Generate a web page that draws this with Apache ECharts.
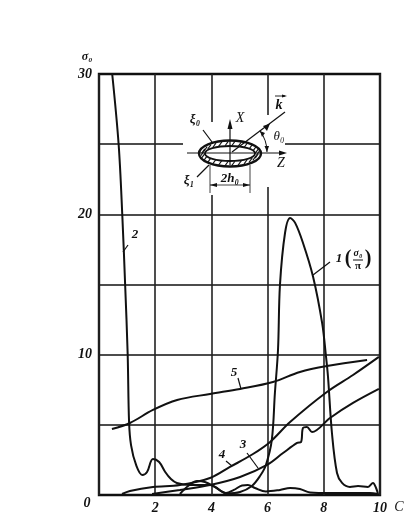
<!DOCTYPE html>
<html><head><meta charset="utf-8">
<style>html,body{margin:0;padding:0;background:#fff}#c{width:411px;height:530px}</style>
<script src="https://cdn.jsdelivr.net/npm/echarts@6/dist/echarts.min.js"></script>
</head><body><div id="c"></div>
<script>
const curve1=[[2.88,.07],[3.17,.64],[3.49,1.0],[3.77,.93],[4.13,.57],[4.56,.11],[5.02,.21],[5.44,.64],[5.73,1.35],[5.94,2.14],[6.15,3.92],[6.26,7.27],[6.37,10.33],[6.44,14.97],[6.62,18.67],[6.80,19.74],[6.98,19.39],[7.26,17.96],[7.62,15.54],[7.94,12.26],[8.08,9.84],[8.15,8.41],[8.29,4.42],[8.47,1.57],[8.65,.86],[8.93,.57],[9.22,.64],[9.57,.57],[9.75,.86],[9.86,.5],[9.93,.07]];
const curve2=[[.47,30],[.70,24.95],[.83,19.9],[.93,15],[1.02,10.05],[1.07,5.2],[1.14,3.56],[1.32,2.14],[1.54,1.43],[1.71,1.64],[1.92,2.57],[2.14,2.35],[2.35,1.66],[2.56,1.14],[2.77,.86],[3.24,.71],[3.95,.71],[4.52,.14],[4.80,.36],[5.09,.68],[5.30,.71],[5.55,.5],[5.94,.25],[6.44,.36],[6.80,.5],[7.15,.43],[7.51,.18],[8.22,.14],[9.64,.14],[9.93,.07]];
const curve3=[[1.89,.07],[2.88,.36],[3.95,.71],[5.02,1.28],[5.98,2.14],[6.55,2.99],[7.05,3.71],[7.19,3.78],[7.26,4.78],[7.40,4.85],[7.58,4.49],[8.22,5.49],[9.04,6.56],[9.96,7.56]];
const curve4=[[.82,.07],[1.10,.29],[1.92,.57],[2.88,.71],[3.95,1.21],[4.66,2.0],[5.48,2.92],[6.09,3.78],[6.80,5.2],[8.11,7.34],[9.04,8.55],[9.96,9.84]];
const curve5=[[.46,4.7],[1.10,5.13],[1.92,6.06],[2.78,6.77],[3.95,7.2],[5.02,7.56],[6.19,8.05],[7.15,8.77],[8.11,9.19],[9.54,9.62]];
const xTicks=[2,4,6,8,10];
const yTicks=[10,20,30];

const F='"Liberation Serif"';
const K='#111';
const line=(x1,y1,x2,y2,w=1.2)=>({type:'line',z:20,shape:{x1,y1,x2,y2},style:{stroke:K,lineWidth:w}});
const text=(x,y,t,s=13,st='italic',extra={})=>({type:'text',z:21,x,y,style:Object.assign({text:t,font:`${st} bold ${s}px ${F}`,fill:K,align:'center',verticalAlign:'middle'},extra)});
const tri=(pts)=>({type:'polygon',z:21,shape:{points:pts},style:{fill:K}});
const mask=(x,y,width,height)=>({type:'rect',z:10,shape:{x,y,width,height},style:{fill:'#fff'}});
const ell=(cx,cy,rx,ry,style,z=20)=>({type:'ellipse',z,shape:{cx,cy,rx,ry},style});

// slanted hatching of the ring in the inset sketch
const hatch=[];
for(let i=0;i<26;i++){
  const a=i/26*Math.PI*2, mx=230+27.6*Math.cos(a), my=153.5+10*Math.sin(a);
  hatch.push(line(mx-1.6,my+2.2,mx+1.6,my-2.2,1.1));
}

const graphics=[
 mask(183,141,102,8),mask(206,122,8,73),mask(263,115,8,72),
 ell(230,153.5,31,13,{fill:'#fff',stroke:K,lineWidth:2.4}),
 ...hatch,
 ell(230,153.5,25,7.5,{fill:'#fff',stroke:K,lineWidth:1.8,z2:3}),
 line(187,153,284,153),tri([[287,153],[279,150.5],[279,155.5]]),
 line(230,165,230,124),tri([[230,119],[227.5,129],[232.5,129]]),
 line(232,152,285,112),tri([[270,123.5],[263,126],[267,131]]),
 line(203,130,212,142),line(197,177,209,165),
 line(210,165,210,193,.8),line(250,165,250,193,.8),line(210,185,250,185,.8),
 tri([[210,185],[217,183],[217,187]]),tri([[250,185],[243,183],[243,187]]),
 {type:'arc',z:20,shape:{cx:232,cy:152,r:35,startAngle:-0.65,endAngle:0},style:{stroke:K,lineWidth:1,fill:'none'}},
 tri([[267,152],[264.5,146],[269,146]]),tri([[260,131],[265,133],[262,137]]),
 text(240,118,'X',14,'italic',{font:`italic 14px ${F}`}),
 text(281,163,'Z',14,'italic',{font:`italic 14px ${F}`}),
 text(279,105,'k',14),line(275,96,285,96,.9),tri([[287,96],[282,94.5],[282,97.5]]),
 text(279,137,'θ₀',12,'italic',{font:`italic 13px ${F}`}),
 text(195,120,'ξ₀',13),text(189,181,'ξ₁',13),
 text(230,179,'2h₀',13),
 text(87,57,'σ₀',12),
 text(87,503,'0',14),
 text(399,507,'C',14,'italic',{font:`italic 14px ${F}`}),
 text(135,235,'2',13),line(128,245,123,252),
 text(234,373,'5',13),line(238,378,241,389),
 text(222,455,'4',13),line(226,461,232,466),
 text(243,445,'3',13),line(247,453,258,468),
 text(339,259,'1',13),line(330,262,313,275),
 text(348,259,'(',20,'normal'),text(368,259,')',20,'normal'),
 text(358,253,'σ₀',10),line(353,260,363,260,1),text(358,266,'π',11,'normal')
];

const ser=(d)=>({type:'line',data:d,smooth:0.35,showSymbol:false,symbol:'none',z:5,clip:true,
  lineStyle:{color:K,width:2},silent:true});

echarts.init(document.getElementById('c'),null,{renderer:'canvas'}).setOption({
 animation:false,backgroundColor:'#fff',
 grid:{left:99,right:31,top:74,bottom:35,show:true,borderColor:K,borderWidth:2.4,backgroundColor:'transparent'},
 xAxis:{type:'value',min:0,max:10,interval:2,
  axisLine:{show:false},axisTick:{show:false},
  splitLine:{show:true,lineStyle:{color:'#222',width:1.6}},
  axisLabel:{margin:6,color:K,fontFamily:F,fontStyle:'italic',fontWeight:'bold',fontSize:14,
   formatter:v=>xTicks.includes(v)?String(v):''}},
 yAxis:{type:'value',min:0,max:30,interval:5,
  axisLine:{show:false},axisTick:{show:false},
  splitLine:{show:true,lineStyle:{color:'#111',width:1.5}},
  axisLabel:{margin:7,color:K,fontFamily:F,fontStyle:'italic',fontWeight:'bold',fontSize:14,
   formatter:v=>yTicks.includes(v)?String(v):''}},
 series:[curve1,curve2,curve3,curve4,curve5].map(ser),
 graphic:{elements:graphics}
});
</script></body></html>
